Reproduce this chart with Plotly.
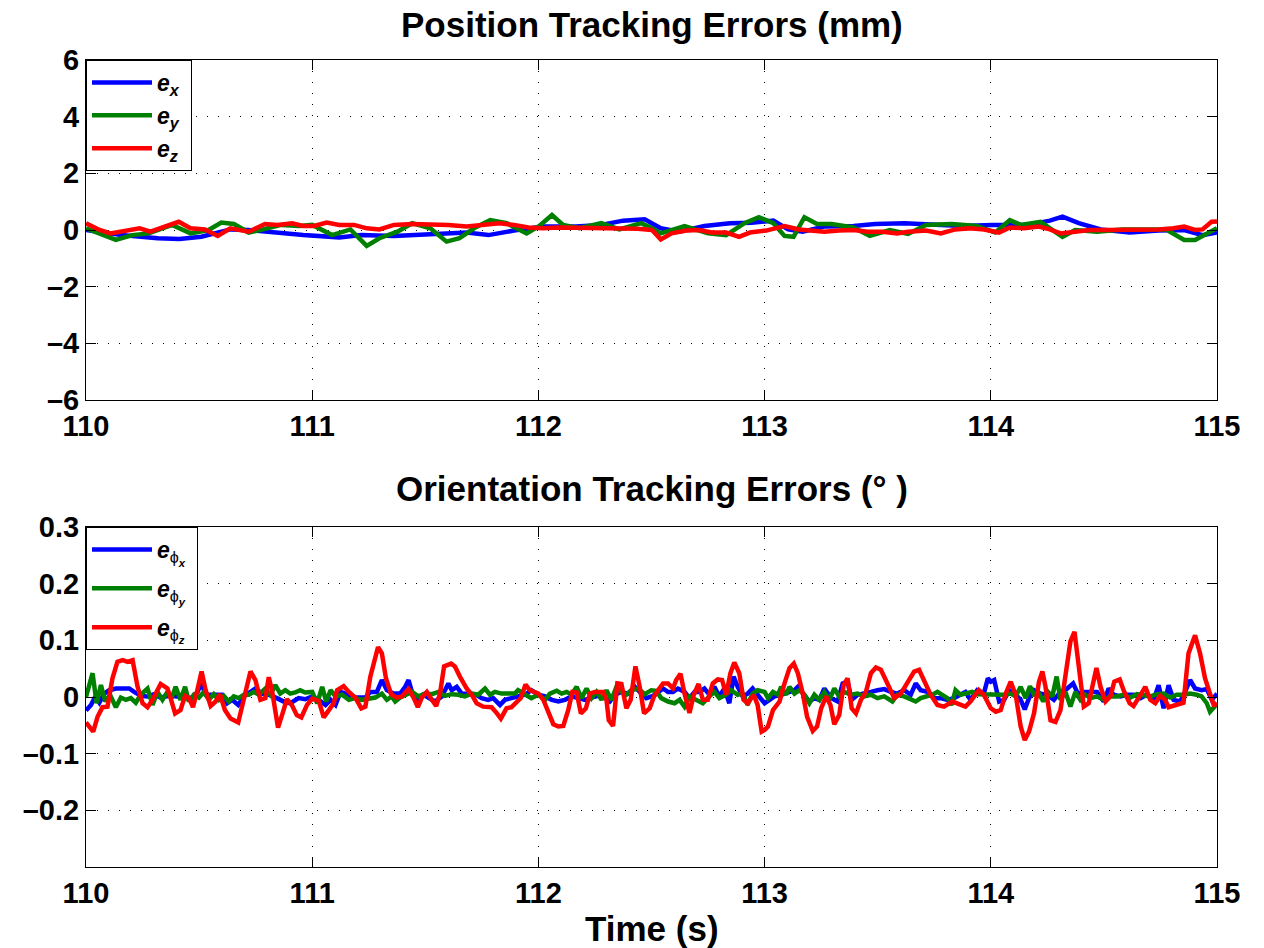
import plotly.graph_objects as go

# ---------------- Position tracking errors (mm) ----------------
ex_t = [110.000, 110.156, 110.317, 110.413, 110.510, 110.638, 110.719, 110.831, 110.960, 111.120,
        111.217, 111.361, 111.522, 111.683, 111.779, 111.892, 112.020, 112.165, 112.278, 112.374,
        112.470, 112.541, 112.622, 112.734, 112.847, 112.943, 113.039, 113.104, 113.168, 113.264,
        113.393, 113.489, 113.618, 113.746, 113.875, 114.004, 114.164, 114.261, 114.317, 114.389,
        114.486, 114.614, 114.743, 114.855, 114.936, 115.000]
ex = [0.0, -0.18, -0.29, -0.32, -0.24, 0.02, 0.0, -0.09, -0.18, -0.26,
      -0.18, -0.21, -0.14, -0.09, -0.18, -0.02, 0.12, 0.12, 0.18, 0.33,
      0.38, 0.06, -0.06, 0.14, 0.24, 0.26, 0.33, 0.02, -0.06, 0.12,
      0.14, 0.21, 0.24, 0.18, 0.14, 0.18, 0.18, 0.33, 0.47, 0.24,
      0.02, -0.09, -0.02, 0.0, -0.18, -0.09]

ey_t = [110.000, 110.060, 110.132, 110.205, 110.277, 110.381, 110.462, 110.542, 110.598, 110.654,
        110.719, 110.783, 110.863, 110.944, 111.000, 111.088, 111.169, 111.241, 111.297, 111.377,
        111.442, 111.522, 111.594, 111.651, 111.715, 111.787, 111.860, 111.948, 112.004, 112.060,
        112.109, 112.181, 112.278, 112.358, 112.454, 112.502, 112.541, 112.646, 112.750, 112.830,
        112.911, 112.975, 113.039, 113.088, 113.128, 113.176, 113.232, 113.296, 113.393, 113.465,
        113.554, 113.634, 113.714, 113.827, 113.939, 114.020, 114.084, 114.132, 114.220, 114.317,
        114.373, 114.470, 114.582, 114.775, 114.855, 114.903, 115.000]
ey = [0.06, -0.12, -0.35, -0.18, -0.12, 0.18, -0.12, 0.0, 0.26, 0.21,
      -0.09, 0.02, 0.18, 0.14, 0.18, -0.18, 0.02, -0.56, -0.29, -0.06,
      0.24, 0.06, -0.41, -0.29, 0.06, 0.35, 0.24, -0.12, 0.14, 0.53,
      0.18, 0.06, 0.24, 0.02, 0.24, 0.06, -0.12, 0.14, -0.12, -0.18,
      0.24, 0.45, 0.24, -0.21, -0.24, 0.45, 0.21, 0.21, 0.09, -0.21,
      0.0, -0.14, 0.18, 0.21, 0.14, -0.09, 0.35, 0.18, 0.29, -0.24,
      0.0, -0.06, 0.02, 0.02, -0.35, -0.35, 0.06]

ez_t = [110.000, 110.060, 110.108, 110.156, 110.237, 110.285, 110.349, 110.410, 110.462, 110.526,
        110.582, 110.638, 110.719, 110.791, 110.847, 110.911, 110.960, 111.008, 111.064, 111.120,
        111.185, 111.241, 111.297, 111.361, 111.442, 111.522, 111.602, 111.683, 111.747, 111.828,
        111.892, 111.956, 112.020, 112.085, 112.165, 112.245, 112.310, 112.374, 112.438, 112.502,
        112.541, 112.589, 112.654, 112.710, 112.766, 112.830, 112.887, 112.935, 113.007, 113.088,
        113.152, 113.200, 113.264, 113.329, 113.393, 113.457, 113.521, 113.586, 113.634, 113.714,
        113.779, 113.843, 113.907, 113.971, 114.036, 114.084, 114.148, 114.212, 114.261, 114.309,
        114.373, 114.437, 114.502, 114.582, 114.662, 114.743, 114.807, 114.855, 114.903, 114.936,
        114.976, 115.000]
ez = [0.24, 0.0, -0.12, -0.06, 0.06, -0.06, 0.12, 0.29, 0.06, 0.02,
      -0.21, 0.06, -0.06, 0.21, 0.18, 0.24, 0.14, 0.14, 0.26, 0.18,
      0.18, 0.06, 0.02, 0.18, 0.21, 0.21, 0.18, 0.12, 0.18, 0.24,
      0.18, 0.09, 0.06, 0.09, 0.08, 0.08, 0.06, 0.05, 0.04, 0.0,
      -0.33, -0.12, -0.02, 0.0, -0.09, -0.09, -0.24, -0.09, -0.02, 0.14,
      0.02, 0.0, -0.06, -0.02, 0.0, -0.06, -0.06, -0.12, -0.06, -0.02,
      -0.12, 0.02, 0.06, 0.02, -0.09, 0.09, 0.06, 0.12, 0.02, -0.12,
      -0.06, 0.0, 0.0, 0.0, 0.0, 0.02, 0.06, 0.12, 0.0, 0.02,
      0.29, 0.30]

# ---------------- Orientation tracking errors (deg) ----------------
phx_t = [110.000, 110.022, 110.041, 110.059, 110.081, 110.103, 110.132, 110.162, 110.191, 110.213,
         110.242, 110.272, 110.301, 110.330, 110.367, 110.404, 110.441, 110.470, 110.492, 110.511,
         110.529, 110.558, 110.602, 110.624, 110.646, 110.673, 110.698, 110.727, 110.749, 110.778,
         110.808, 110.844, 110.874, 110.903, 110.940, 110.969,
         111.000, 111.029, 111.059, 111.081, 111.103, 111.125, 111.147, 111.176, 111.206, 111.235,
         111.257, 111.286, 111.308, 111.330, 111.360, 111.389, 111.411, 111.426, 111.441, 111.470,
         111.492, 111.514, 111.543, 111.573, 111.602, 111.617, 111.639, 111.661, 111.690, 111.720,
         111.749, 111.778, 111.800, 111.830, 111.852, 111.881, 111.910, 111.940, 111.969,
         112.000, 112.029, 112.059, 112.088, 112.117, 112.147, 112.176, 112.206, 112.235, 112.264,
         112.294, 112.316, 112.338, 112.367, 112.396, 112.426, 112.448, 112.477, 112.507, 112.529,
         112.551, 112.573, 112.595, 112.617, 112.646, 112.668, 112.690, 112.712, 112.734, 112.756,
         112.778, 112.800, 112.822, 112.844, 112.863, 112.881, 112.903, 112.925, 112.947, 112.969,
         113.000, 113.022, 113.044, 113.073, 113.103, 113.132, 113.147, 113.169, 113.198, 113.220,
         113.242, 113.264, 113.294, 113.323, 113.345, 113.367, 113.385, 113.411, 113.441, 113.470,
         113.499, 113.529, 113.558, 113.587, 113.617, 113.646, 113.668, 113.690, 113.720, 113.749,
         113.778, 113.808, 113.837, 113.866, 113.888, 113.910, 113.940, 113.969, 113.987,
         114.000, 114.015, 114.037, 114.059, 114.081, 114.110, 114.132, 114.150, 114.169, 114.191,
         114.220, 114.250, 114.279, 114.308, 114.338, 114.364, 114.385, 114.411, 114.441, 114.470,
         114.499, 114.521, 114.543, 114.573, 114.602, 114.631, 114.661, 114.690, 114.720, 114.742,
         114.764, 114.786, 114.808, 114.837, 114.859, 114.881, 114.903, 114.932, 114.955, 114.977,
         115.000]
phx = [-0.024, -0.014, 0.001, -0.010, 0.006, 0.012, 0.015, 0.015, 0.015, 0.009,
       0.002, 0.001, 0.005, -0.001, 0.002, 0.001, -0.002, -0.001, 0.008, 0.024,
       0.004, 0.004, 0.004, -0.011, -0.005, -0.014, 0.001, 0.009, 0.015, 0.006,
       0.004, -0.002, -0.008, -0.011, -0.002, -0.004,
       0.001, -0.005, -0.014, -0.005, -0.014, 0.009, 0.006, -0.001, -0.002, -0.001,
       0.009, 0.009, 0.030, 0.012, 0.006, 0.006, 0.018, 0.030, 0.009, -0.008,
       0.004, -0.002, -0.008, 0.001, 0.024, 0.012, 0.018, 0.006, 0.005, 0.005,
       -0.002, -0.005, -0.002, -0.014, -0.005, -0.002, 0.001, 0.004, 0.012,
       0.004, 0.001, -0.005, -0.008, -0.005, 0.001, -0.002, -0.005, -0.001, 0.002,
       -0.002, -0.008, 0.004, 0.009, 0.006, 0.018, 0.009, -0.002, 0.002, 0.009,
       0.015, 0.009, 0.009, 0.015, 0.009, -0.002, 0.009, 0.009, 0.015, 0.004,
       0.018, 0.001, 0.015, -0.011, 0.036, 0.018, 0.001, 0.006, 0.015, 0.004,
       -0.011, -0.005, 0.001, 0.004, 0.009, 0.012, 0.018, 0.006, -0.008, -0.002,
       -0.005, 0.015, -0.002, -0.008, 0.024, 0.027, -0.005, 0.004, 0.006, 0.009,
       0.012, 0.014, 0.009, 0.006, 0.012, 0.004, 0.024, 0.012, 0.009, -0.002,
       -0.002, -0.005, -0.002, 0.004, 0.009, -0.005, 0.012, 0.006, 0.033,
       0.027, 0.030, -0.008, -0.005, 0.012, 0.004, -0.005, -0.022, -0.002, 0.012,
       0.006, 0.004, -0.005, 0.009, 0.015, 0.024, 0.006, 0.009, 0.009, 0.009,
       -0.008, 0.015, 0.004, 0.001, 0.004, 0.004, -0.002, 0.004, -0.005, 0.021,
       -0.020, 0.021, -0.005, -0.008, 0.009, 0.030, 0.015, 0.012, 0.014, -0.005,
       0.006]

phy_t = [110.000, 110.007, 110.029, 110.047, 110.066, 110.085, 110.106, 110.132, 110.154, 110.176,
         110.198, 110.220, 110.242, 110.272, 110.294, 110.316, 110.338, 110.360, 110.379, 110.396,
         110.418, 110.438, 110.455, 110.477, 110.499, 110.521, 110.543, 110.565, 110.587, 110.609,
         110.631, 110.653, 110.675, 110.698, 110.720, 110.742, 110.764, 110.793, 110.815, 110.837,
         110.859, 110.881, 110.903, 110.925, 110.947, 110.969,
         111.000, 111.022, 111.044, 111.062, 111.081, 111.103, 111.132, 111.162, 111.191, 111.220,
         111.250, 111.279, 111.308, 111.330, 111.352, 111.367, 111.389, 111.418, 111.441, 111.470,
         111.499, 111.529, 111.558, 111.587, 111.617, 111.646, 111.675, 111.705, 111.734, 111.764,
         111.786, 111.808, 111.837, 111.866, 111.896, 111.910, 111.940, 111.969,
         112.000, 112.029, 112.051, 112.081, 112.103, 112.125, 112.147, 112.169, 112.191, 112.213,
         112.235, 112.257, 112.279, 112.301, 112.323, 112.345, 112.367, 112.389, 112.411, 112.441,
         112.470, 112.499, 112.521, 112.543, 112.573, 112.602, 112.624, 112.646, 112.668, 112.698,
         112.727, 112.756, 112.778, 112.800, 112.830, 112.852, 112.881, 112.903, 112.925, 112.947,
         112.969,
         113.000, 113.015, 113.037, 113.059, 113.073, 113.095, 113.110, 113.132, 113.154, 113.176,
         113.198, 113.220, 113.242, 113.264, 113.286, 113.308, 113.330, 113.352, 113.382, 113.411,
         113.441, 113.470, 113.499, 113.529, 113.565, 113.587, 113.617, 113.646, 113.668, 113.690,
         113.720, 113.742, 113.764, 113.786, 113.808, 113.827, 113.844, 113.866, 113.896, 113.918,
         113.940, 113.969,
         114.000, 114.029, 114.059, 114.088, 114.110, 114.132, 114.154, 114.173, 114.191, 114.213,
         114.232, 114.253, 114.272, 114.291, 114.308, 114.330, 114.352, 114.374, 114.396, 114.418,
         114.441, 114.470, 114.499, 114.529, 114.558, 114.587, 114.617, 114.646, 114.675, 114.705,
         114.734, 114.764, 114.793, 114.822, 114.852, 114.881, 114.910, 114.932, 114.955, 114.969,
         114.987, 115.000]
phy = [0.000, 0.009, 0.042, -0.011, 0.021, -0.008, 0.004, -0.018, -0.001, -0.005,
       -0.002, -0.010, 0.004, 0.015, -0.014, 0.009, -0.005, 0.009, -0.002, 0.018,
       -0.005, 0.018, -0.008, 0.004, -0.001, 0.009, -0.005, 0.005, -0.005, 0.002,
       -0.008, 0.001, -0.002, 0.004, 0.004, 0.009, 0.004, 0.015, 0.004, 0.021,
       0.006, 0.012, 0.006, 0.008, 0.012, 0.008,
       0.009, -0.011, 0.018, -0.008, 0.012, 0.001, 0.004, -0.005, -0.002, -0.005,
       -0.002, -0.001, 0.006, -0.005, 0.001, -0.008, -0.001, 0.004, 0.009, 0.001,
       0.006, 0.005, 0.009, 0.002, 0.005, 0.004, 0.001, 0.006, 0.004, 0.015,
       0.004, 0.009, 0.006, 0.006, 0.006, 0.012, 0.004, -0.002,
       0.004, -0.005, 0.006, 0.011, 0.006, 0.009, 0.004, 0.018, -0.002, 0.015,
       -0.002, 0.009, -0.005, 0.012, -0.005, 0.018, 0.009, 0.004, 0.012, 0.015,
       0.005, 0.012, 0.011, -0.002, -0.008, -0.011, -0.005, -0.017, 0.001, -0.005,
       -0.011, 0.001, 0.009, -0.002, 0.004, 0.012, 0.004, 0.006, -0.014, 0.006,
       0.012,
       0.009, -0.002, 0.009, 0.004, 0.018, 0.004, 0.018, 0.006, 0.012, 0.004,
       -0.011, 0.004, -0.005, 0.009, -0.005, 0.015, 0.001, 0.009, 0.004, 0.006,
       0.001, 0.004, -0.002, 0.001, -0.008, 0.004, 0.001, -0.005, -0.008, -0.002,
       0.001, 0.004, 0.009, 0.004, -0.002, -0.014, 0.012, 0.004, 0.006, 0.009,
       0.005, 0.005,
       0.004, 0.004, 0.004, 0.006, 0.001, 0.018, -0.002, 0.019, 0.004, 0.006,
       -0.008, 0.009, 0.001, 0.036, -0.005, 0.009, -0.017, 0.009, -0.005, 0.004,
       -0.002, 0.001, -0.005, 0.001, 0.001, 0.004, -0.001, 0.005, 0.004, 0.001,
       0.005, 0.006, -0.001, 0.004, 0.004, 0.006, 0.004, 0.001, -0.011, -0.026,
       -0.018, -0.012]

phz_t = [110.000, 110.007, 110.032, 110.051, 110.073, 110.095, 110.117, 110.139, 110.162, 110.184,
         110.206, 110.228, 110.250, 110.272, 110.294, 110.330, 110.360, 110.374, 110.394, 110.418,
         110.438, 110.455, 110.473, 110.492, 110.511, 110.529, 110.551, 110.573, 110.592, 110.614,
         110.639, 110.673, 110.698, 110.727, 110.749, 110.771, 110.793, 110.808, 110.822, 110.849,
         110.869, 110.888, 110.910, 110.932, 110.952, 110.977, 111.000,
         111.029, 111.051, 111.073, 111.095, 111.110, 111.139, 111.162, 111.191, 111.217, 111.235,
         111.257, 111.291, 111.308, 111.326, 111.349, 111.374, 111.396, 111.426, 111.448, 111.467,
         111.485, 111.507, 111.529, 111.548, 111.565, 111.583, 111.614, 111.631, 111.653, 111.683,
         111.705, 111.727, 111.756, 111.793, 111.815, 111.834, 111.859, 111.881, 111.922, 111.943,
         111.962, 112.000,
         112.022, 112.044, 112.066, 112.088, 112.110, 112.132, 112.150, 112.169, 112.188, 112.210,
         112.228, 112.250, 112.286, 112.301, 112.311, 112.330, 112.349, 112.367, 112.389, 112.408,
         112.429, 112.448, 112.467, 112.492, 112.511, 112.529, 112.551, 112.573, 112.595, 112.609,
         112.628, 112.646, 112.668, 112.687, 112.708, 112.727, 112.749, 112.771, 112.793, 112.812,
         112.830, 112.849, 112.866, 112.888, 112.907, 112.925, 112.952, 112.969, 112.987, 113.000,
         113.015, 113.037, 113.066, 113.088, 113.110, 113.129, 113.147, 113.169, 113.188, 113.213,
         113.232, 113.250, 113.272, 113.291, 113.308, 113.330, 113.349, 113.367, 113.385, 113.404,
         113.426, 113.448, 113.470, 113.492, 113.514, 113.543, 113.573, 113.602, 113.631, 113.661,
         113.683, 113.705, 113.734, 113.764, 113.793, 113.830, 113.859, 113.888, 113.910, 113.947,
         113.969, 114.000,
         114.022, 114.044, 114.066, 114.088, 114.110, 114.132, 114.150, 114.169, 114.191, 114.213,
         114.228, 114.242, 114.264, 114.286, 114.308, 114.330, 114.352, 114.370, 114.389, 114.411,
         114.433, 114.452, 114.467, 114.485, 114.507, 114.529, 114.546, 114.570, 114.587, 114.614,
         114.631, 114.658, 114.683, 114.705, 114.727, 114.749, 114.771, 114.786, 114.815, 114.852,
         114.874, 114.903, 114.925, 114.947, 114.969, 114.987, 115.000]
phz = [-0.045, -0.049, -0.061, -0.035, -0.018, -0.017, 0.033, 0.062, 0.065, 0.062,
       0.065, 0.018, -0.011, -0.018, -0.005, 0.023, 0.015, -0.002, -0.029, -0.023,
       0.002, -0.002, -0.018, 0.012, 0.045, 0.012, -0.016, -0.008, 0.005, -0.023,
       -0.038, -0.045, -0.002, 0.045, 0.030, -0.005, -0.002, 0.035, 0.012, -0.054,
       -0.029, -0.004, -0.014, -0.032, -0.036, -0.014, -0.003,
       -0.007, -0.036, -0.023, -0.011, 0.012, 0.019, 0.009, -0.001, -0.020, -0.017,
       0.036, 0.088, 0.077, 0.033, 0.005, -0.001, 0.001, 0.014, -0.001, -0.018,
       -0.001, 0.009, -0.005, -0.016, 0.006, 0.054, 0.059, 0.054, 0.036, 0.015,
       0.004, -0.011, -0.017, -0.018, -0.028, -0.038, -0.020, -0.018, -0.002, 0.022,
       0.012, 0.006,
       -0.005, -0.029, -0.048, -0.052, -0.051, -0.023, 0.009, 0.008, -0.029, -0.020,
       0.006, 0.009, 0.009, -0.005, -0.041, -0.051, 0.024, 0.023, -0.020, -0.005,
       0.054, 0.018, -0.029, -0.020, 0.001, 0.012, 0.024, 0.024, 0.015, 0.030,
       0.041, 0.006, -0.028, 0.004, 0.023, -0.005, -0.005, 0.024, 0.031, 0.030,
       0.004, 0.042, 0.061, 0.042, -0.005, -0.011, 0.004, -0.014, -0.061, -0.058,
       -0.052, -0.023, -0.008, 0.024, 0.051, 0.059, 0.042, 0.006, -0.035, -0.060,
       -0.052, -0.020, 0.001, -0.014, -0.048, -0.032, 0.021, 0.033, -0.020, -0.029,
       -0.005, 0.009, 0.042, 0.052, 0.048, 0.024, -0.002, 0.006, 0.024, 0.045,
       0.048, 0.030, 0.004, -0.014, -0.017, -0.008, -0.012, -0.017, -0.008, 0.012,
       0.004, -0.020,
       -0.026, -0.023, 0.006, 0.027, 0.004, -0.052, -0.076, -0.061, -0.029, 0.027,
       0.045, 0.018, -0.041, -0.044, -0.023, 0.033, 0.098, 0.115, 0.054, -0.017,
       -0.011, 0.027, 0.051, 0.018, -0.008, 0.001, 0.027, 0.031, 0.012, -0.011,
       -0.016, 0.001, 0.018, -0.005, -0.011, 0.002, -0.005, -0.018, -0.014, -0.010,
       0.077, 0.109, 0.077, 0.033, 0.006, -0.016, -0.010]

for a, b in [(ex_t, ex), (ey_t, ey), (ez_t, ez), (phx_t, phx), (phy_t, phy), (phz_t, phz)]:
    assert len(a) == len(b), (len(a), len(b))

x_ticks = [110, 111, 112, 113, 114, 115]
pos_ticks = [-6, -4, -2, 0, 2, 4, 6]
pos_ticktext = ["\u20136", "\u20134", "\u20132", "0", "2", "4", "6"]
ori_ticks = [-0.2, -0.1, 0, 0.1, 0.2, 0.3]
ori_ticktext = ["\u20130.2", "\u20130.1", "0", "0.1", "0.2", "0.3"]

BLUE, GREEN, RED = "#0000FF", "#008000", "#FF0000"
FONT = "Liberation Sans, Arial, Helvetica, sans-serif"

def leg(sym, sub):
    return f"<b><i>{sym}</i></b><sub><b><i>{sub}</i></b></sub> "

def leg_phi(sub):
    return f"<b><i>e</i></b><sub>\u03d5<sub><b><i>{sub}</i></b></sub></sub> "

fig = go.Figure()
lw = 4.5
fig.add_trace(go.Scatter(x=ex_t, y=ex, mode="lines", line=dict(color=BLUE, width=lw),
                         name=leg("e", "x"), xaxis="x", yaxis="y", legend="legend"))
fig.add_trace(go.Scatter(x=ey_t, y=ey, mode="lines", line=dict(color=GREEN, width=lw),
                         name=leg("e", "y"), xaxis="x", yaxis="y", legend="legend"))
fig.add_trace(go.Scatter(x=ez_t, y=ez, mode="lines", line=dict(color=RED, width=lw),
                         name=leg("e", "z"), xaxis="x", yaxis="y", legend="legend"))
fig.add_trace(go.Scatter(x=phx_t, y=phx, mode="lines", line=dict(color=BLUE, width=lw),
                         name=leg_phi("x"), xaxis="x2", yaxis="y2", legend="legend2",
                         legendgroup="px"))
fig.add_trace(go.Scatter(x=phy_t, y=phy, mode="lines", line=dict(color=GREEN, width=lw),
                         name=leg_phi("y"), xaxis="x2", yaxis="y2", legend="legend2",
                         legendgroup="py"))
fig.add_trace(go.Scatter(x=phz_t, y=phz, mode="lines", line=dict(color=RED, width=lw),
                         name=leg_phi("z"), xaxis="x2", yaxis="y2", legend="legend2",
                         legendgroup="pz"))

W, H = 1264, 948
L, R, T, B = 86, 47, 60, 81
ph = H - T - B
def py(ypx):
    return (H - B - ypx) / ph

top_dom = [py(400), 1.0]
bot_dom = [0.0, py(527)]

axis_common = dict(
    showline=True, linecolor="black", linewidth=1, mirror="ticks",
    ticks="inside", ticklen=10, tickwidth=1, tickcolor="black",
    showgrid=True, gridcolor="black", gridwidth=1, griddash="1px,10px",
    zeroline=False,
    tickfont=dict(family=FONT, size=29, color="black", weight="bold"),
)

fig.update_layout(
    width=W, height=H,
    margin=dict(l=L, r=R, t=T, b=B, autoexpand=False),
    paper_bgcolor="white", plot_bgcolor="white",
    font=dict(family=FONT, color="black"),
    xaxis=dict(domain=[0, 1], range=[110, 115], tickvals=x_ticks, anchor="y", **axis_common),
    yaxis=dict(domain=top_dom, range=[-6, 6], tickvals=pos_ticks, ticktext=pos_ticktext,
               anchor="x", **axis_common),
    xaxis2=dict(domain=[0, 1], range=[110, 115], tickvals=x_ticks, anchor="y2", **axis_common),
    yaxis2=dict(domain=bot_dom, range=[-0.3, 0.3], tickvals=ori_ticks, ticktext=ori_ticktext,
                anchor="x2", **axis_common),
    legend=dict(x=0, y=1, xanchor="left", yanchor="top", bgcolor="white",
                bordercolor="black", borderwidth=1, itemwidth=60,
                font=dict(family=FONT, size=23, color="black")),
    legend2=dict(x=0, y=bot_dom[1], xanchor="left", yanchor="top", bgcolor="white",
                 bordercolor="black", borderwidth=1, itemwidth=60,
                 tracegroupgap=6, traceorder="grouped",
                 font=dict(family=FONT, size=23, color="black")),
    showlegend=True,
    annotations=[
        dict(text="Position Tracking Errors (mm)", x=0.5, y=py(25), xref="paper", yref="paper",
             xanchor="center", yanchor="middle", showarrow=False,
             font=dict(family=FONT, size=35, color="black", weight="bold")),
        dict(text="Orientation Tracking Errors (\u00b0 )", x=0.5, y=py(488), xref="paper", yref="paper",
             xanchor="center", yanchor="middle", showarrow=False,
             font=dict(family=FONT, size=35, color="black", weight="bold")),
        dict(text="Time (s)", x=0.5, y=py(928), xref="paper", yref="paper",
             xanchor="center", yanchor="middle", showarrow=False,
             font=dict(family=FONT, size=35, color="black", weight="bold")),
    ],
)

fig.write_html("out.html")
